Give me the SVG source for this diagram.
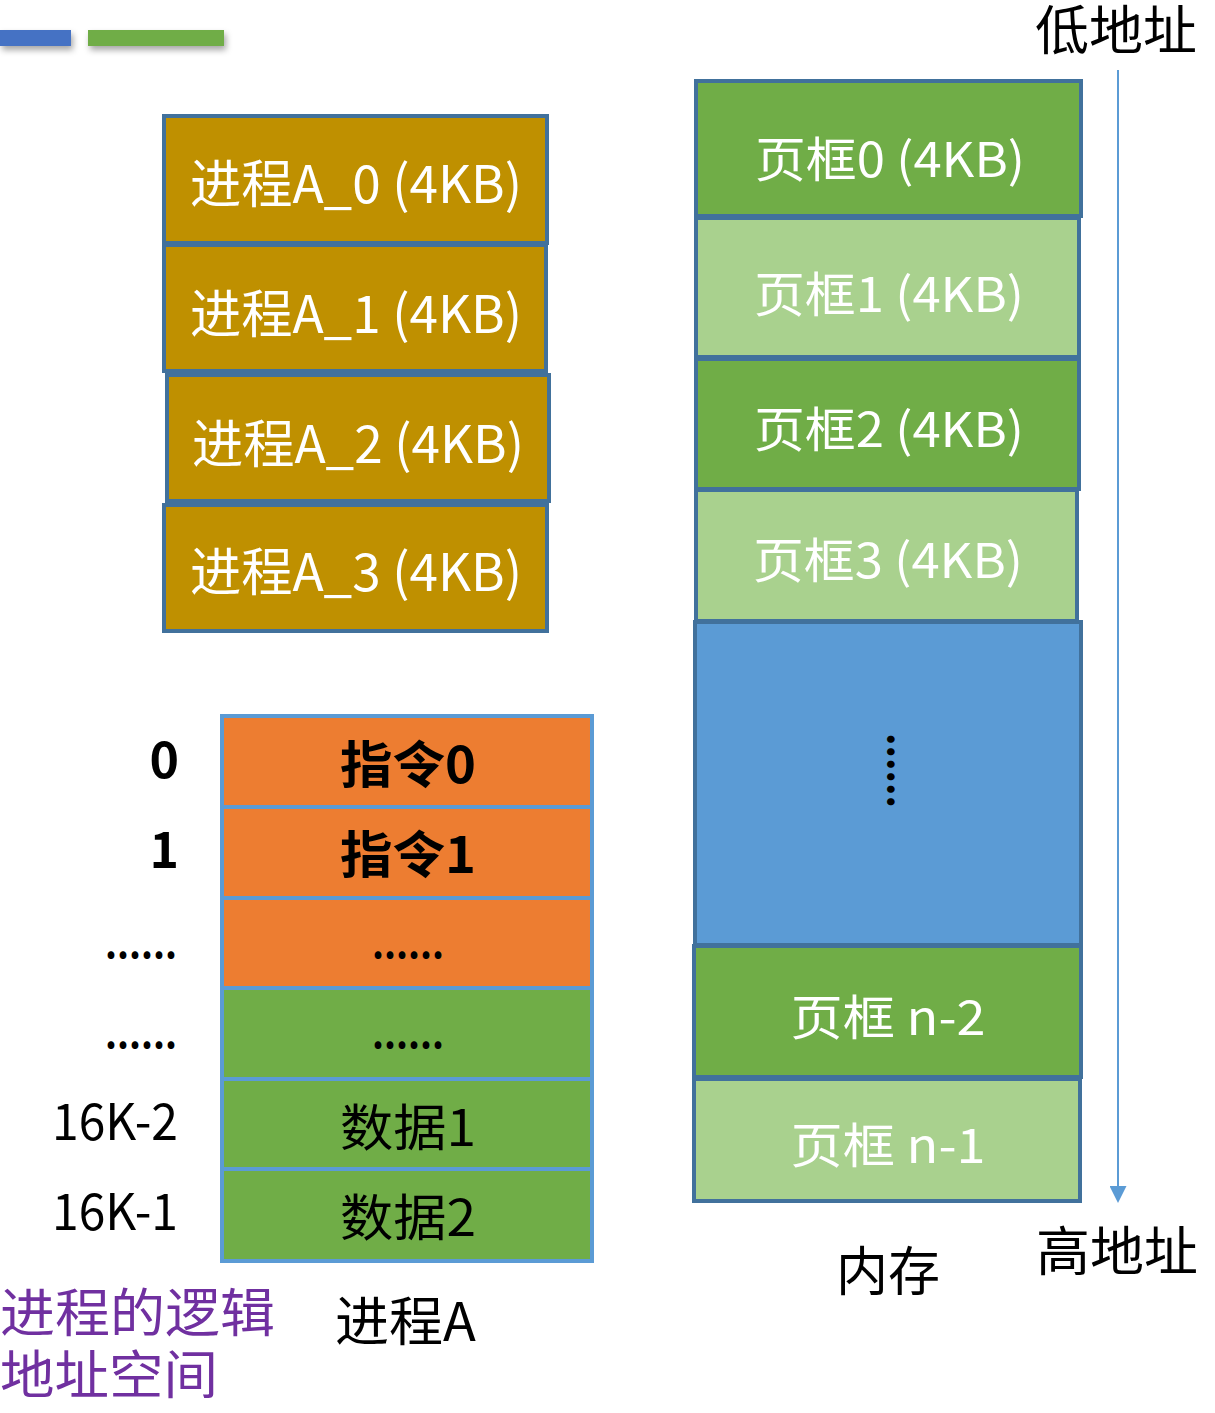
<svg xmlns="http://www.w3.org/2000/svg" width="1215" height="1413" viewBox="0 0 1215 1413">
<defs>
<filter id="sh" x="-20%" y="-50%" width="140%" height="250%">
<feDropShadow dx="2" dy="4" stdDeviation="3" flood-color="#000" flood-opacity="0.35"/>
</filter>
<marker id="ah" viewBox="0 0 10 10" refX="0" refY="5" markerWidth="17" markerHeight="17" markerUnits="userSpaceOnUse" orient="auto">
<path d="M0,0 L10,5 L0,10 z" fill="#5B9BD5"/>
</marker>
</defs>
<style>
text{font-family:"Noto Sans CJK SC","Noto Sans",sans-serif;}
.pa{fill:#BF9000;stroke:#41719C;stroke-width:4;}
.dk{fill:#70AD47;stroke:#41719C;stroke-width:4;}
.lt{fill:#A9D18E;stroke:#41719C;stroke-width:4;}
.bl{fill:#5B9BD5;stroke:#41719C;stroke-width:4;}
.or{fill:#ED7D31;stroke:#5B9BD5;stroke-width:4;}
.gr{fill:#70AD47;stroke:#5B9BD5;stroke-width:4;}
.wt{fill:#fff;font-size:52px;}
.wf{fill:#fff;font-size:48px;text-anchor:middle;}
.bk{fill:#000;font-size:50px;text-anchor:middle;}
.bb{fill:#000;font-size:50px;text-anchor:middle;font-weight:bold;}
.lb{fill:#000;font-size:50px;text-anchor:end;}
.lbb{fill:#000;font-size:50px;text-anchor:end;font-weight:bold;}
.dots{fill:#000;font-size:40px;font-weight:bold;}
.big{fill:#000;font-size:53px;}
.pu{fill:#7030A0;font-size:52px;}
</style>

<g id="legend">
<rect x="0" y="30" width="71" height="16" fill="#4472C4" filter="url(#sh)"/>
<rect x="88" y="30" width="136" height="16" fill="#70AD47" filter="url(#sh)"/>
</g>

<g id="processA-pages">
<g id="pa0"><rect class="pa" x="164" y="116" width="383" height="127"/><text class="wt" x="190" y="203" textLength="332" lengthAdjust="spacingAndGlyphs">进程A_0 (4KB)</text></g>
<g id="pa1"><rect class="pa" x="164" y="245" width="382" height="126"/><text class="wt" x="190" y="333" textLength="332" lengthAdjust="spacingAndGlyphs">进程A_1 (4KB)</text></g>
<g id="pa2"><rect class="pa" x="167" y="375" width="382" height="126"/><text class="wt" x="192" y="463" textLength="332" lengthAdjust="spacingAndGlyphs">进程A_2 (4KB)</text></g>
<g id="pa3"><rect class="pa" x="164" y="505" width="383" height="126"/><text class="wt" x="190" y="591" textLength="332" lengthAdjust="spacingAndGlyphs">进程A_3 (4KB)</text></g>
</g>

<g id="memory">
<g id="f0"><rect class="dk" x="696" y="81" width="385" height="135"/><text class="wf" x="890" y="177" textLength="270" lengthAdjust="spacingAndGlyphs">页框0 (4KB)</text></g>
<g id="f1"><rect class="lt" x="696" y="218" width="383" height="139"/><text class="wf" x="889" y="312" textLength="270" lengthAdjust="spacingAndGlyphs">页框1 (4KB)</text></g>
<g id="f2"><rect class="dk" x="696" y="359" width="383" height="130"/><text class="wf" x="889" y="447" textLength="270" lengthAdjust="spacingAndGlyphs">页框2 (4KB)</text></g>
<g id="f3"><rect class="lt" x="696" y="490" width="381" height="131"/><text class="wf" x="888" y="578" textLength="270" lengthAdjust="spacingAndGlyphs">页框3 (4KB)</text></g>
<g id="fmid"><rect class="bl" x="695" y="622" width="386" height="323"/><text class="dots" transform="translate(888,733) rotate(90)" x="0" y="0" textLength="75" lengthAdjust="spacingAndGlyphs">......</text></g>
<g id="fn2"><rect class="dk" x="694" y="946" width="387" height="131"/><text class="wf" x="888" y="1035" textLength="195" lengthAdjust="spacingAndGlyphs">页框 n-2</text></g>
<g id="fn1"><rect class="lt" x="694" y="1079" width="386" height="122"/><text class="wf" x="888" y="1163" textLength="195" lengthAdjust="spacingAndGlyphs">页框 n-1</text></g>
</g>

<g id="connectors">
<line x1="1118" y1="70" x2="1118" y2="1186" stroke="#5B9BD5" stroke-width="2" marker-end="url(#ah)"/>
</g>

<g id="addr-labels">
<text class="big" x="1035" y="50" textLength="162" lengthAdjust="spacingAndGlyphs">低地址</text>
<text class="big" x="1036" y="1271" textLength="162" lengthAdjust="spacingAndGlyphs">高地址</text>
<text class="big" x="836" y="1291" textLength="104" lengthAdjust="spacingAndGlyphs">内存</text>
</g>

<g id="logical">
<g id="r0"><rect class="or" x="222" y="716" width="370" height="91"/><text class="bb" x="408" y="783" textLength="136" lengthAdjust="spacingAndGlyphs">指令0</text></g>
<g id="r1"><rect class="or" x="222" y="807" width="370" height="91"/><text class="bb" x="408" y="873" textLength="136" lengthAdjust="spacingAndGlyphs">指令1</text></g>
<g id="r2"><rect class="or" x="222" y="898" width="370" height="90"/><text class="dots" x="372" y="958" textLength="72" lengthAdjust="spacingAndGlyphs">......</text></g>
<g id="r3"><rect class="gr" x="222" y="988" width="370" height="91"/><text class="dots" x="372" y="1048" textLength="72" lengthAdjust="spacingAndGlyphs">......</text></g>
<g id="r4"><rect class="gr" x="222" y="1079" width="370" height="90"/><text class="bk" x="408" y="1146" textLength="136" lengthAdjust="spacingAndGlyphs">数据1</text></g>
<g id="r5"><rect class="gr" x="222" y="1169" width="370" height="92"/><text class="bk" x="408" y="1236" textLength="136" lengthAdjust="spacingAndGlyphs">数据2</text></g>
</g>

<g id="offsets">
<text class="lbb" x="179" y="778">0</text>
<text class="lbb" x="179" y="868">1</text>
<text class="dots" x="105" y="958" textLength="72" lengthAdjust="spacingAndGlyphs">......</text>
<text class="dots" x="105" y="1048" textLength="72" lengthAdjust="spacingAndGlyphs">......</text>
<text class="lb" x="178" y="1140" textLength="126" lengthAdjust="spacingAndGlyphs">16K-2</text>
<text class="lb" x="178" y="1230" textLength="126" lengthAdjust="spacingAndGlyphs">16K-1</text>
</g>

<g id="captions">
<text class="pu" x="0" y="1332" textLength="275" lengthAdjust="spacingAndGlyphs">进程的逻辑</text>
<text class="pu" x="0" y="1394" textLength="218" lengthAdjust="spacingAndGlyphs">地址空间</text>
<text class="big" x="335" y="1341" textLength="141" lengthAdjust="spacingAndGlyphs">进程A</text>
</g>
</svg>
